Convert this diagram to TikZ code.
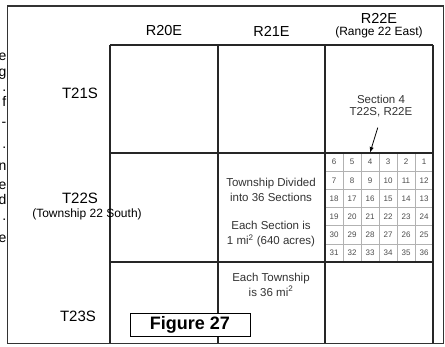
\documentclass[tikz,border=0pt]{standalone}
\usepackage{fontspec}
\setmainfont{Liberation Sans}
\usetikzlibrary{arrows.meta, positioning, calc}

\begin{document}
\begin{tikzpicture}[x=1pt, y=-1pt,
    every node/.style={align=center, inner sep=0pt},
    hdr/.style={font=\fontsize{14.5}{15}\selectfont},
    sub/.style={font=\fontsize{12}{13}\selectfont},
    twp/.style={font=\fontsize{15}{16}\selectfont},
    note/.style={font=\fontsize{11.5}{15}\selectfont, text=black!80},
    frag/.style={anchor=base east, font=\fontsize{14}{14}\selectfont},
    sect/.style={draw=gray!60, line width=0.5pt, minimum width=18pt,
                 minimum height=18.17pt, font=\fontsize{8}{9}\selectfont, text=black!70},
    gridline/.style={line width=1.6pt, black!85},
    edge/.style={-{Latex[length=2mm]}, line width=0.8pt}
]
\useasboundingbox (0,0) rectangle (445,346);
\fill[white] (0,0) rectangle (445,346);

% cut-off letters of the page text on the left
\foreach \ch/\yy in {e/60, g/76, ./91, f/106, -/126, ./148, n/170, e/189, d/204, ./220, e/242}
    \node[frag] at (6.5,\yy) {\ch};

% sections of T22S R22E
\foreach \r in {0,...,5}
  \foreach \c in {0,...,5} {
    \pgfmathtruncatemacro{\n}{mod(\r,2)==1 ? 6*\r+1+\c : 6*\r+6-\c}
    \node[sect] (s\n) at ({334+18*\c},{162.08+18.17*\r}) {\n};
  }

% township grid
\foreach \xx in {110,218,325,433}
    \draw[gridline] (\xx,45) -- (\xx,343.5);
\foreach \yy in {45,153,262}
    \draw[gridline] (110,\yy) -- (433,\yy);
\draw[line width=1.4pt, black!80] (7.5,6) rectangle (443.5,343.5);

% ranges
\node[hdr] (r20) at (164,31) {R20E};
\node[hdr] (r21) at (271.5,31) {R21E};
\node[hdr] (r22) at (379,18.5) {R22E};
\node[sub] (r22n) at (379,32.5) {(Range 22 East)};

% townships
\node[twp] (t21) at (80,93) {T21S};
\node[twp] (t22) at (80,198) {T22S};
\node[sub] (t22n) at (87,214) {(Township 22 South)};
\node[twp] (t23) at (78,316) {T23S};

% notes
\node[note, font=\fontsize{11.5}{12}\selectfont] (sec) at (381,106) {Section 4\\T22S, R22E};
\node[note] (div) at (271,189.5) {Township Divided\\into 36 Sections};
\node[note] (each) at (271,234.5) {Each Section is\\1 mi\textsuperscript{2} (640 acres)};
\node[note] (area) at (271,284.5) {Each Township\\is 36 mi\textsuperscript{2}};
\draw[edge, shorten <=11pt] (sec.south) -- (s4.north);

\node[draw, line width=1pt, fill=white, minimum width=120pt, minimum height=23pt,
      font=\bfseries\fontsize{18}{18}\selectfont] (fig) at (190,324.5) {Figure 27};
\end{tikzpicture}
\end{document}
